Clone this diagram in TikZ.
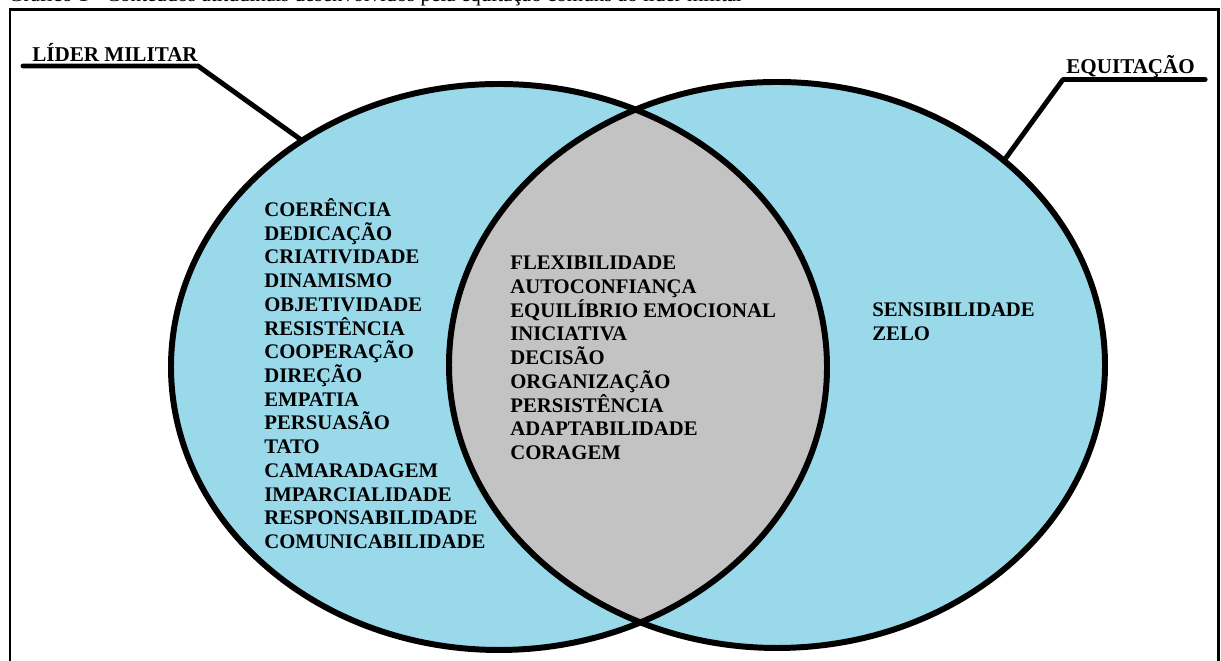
\documentclass[tikz,border=0pt]{standalone}
\usepackage{fontspec}
\setmainfont{Liberation Serif}
\usetikzlibrary{shapes.geometric}

\definecolor{vennblue}{RGB}{153,217,234}
\definecolor{venngray}{RGB}{195,195,195}

\begin{document}
\begin{tikzpicture}[x=0.02cm,y=0.02cm]
    % radii of the two sets
      \def\rx{328}
      \def\ry{283}
    % line spacing of the lists
      \def\listsep{13.5pt}

      \tikzset{
        vennset/.style={ellipse,minimum width={2*\rx*0.02cm},minimum height={2*\ry*0.02cm},
          inner sep=0pt,outer sep=0pt,fill=vennblue},
        vennline/.style={line width=3.4pt},
        callout/.style={line width=2.8pt,line cap=round,line join=round},
        setlabel/.style={font=\bfseries\fontsize{12}{14}\selectfont,inner sep=0pt,anchor=base west},
        % base of a list is the base of its last line
        itemlist/.style={font=\bfseries\fontsize{11.8}{\listsep}\selectfont,align=left,
          inner sep=0pt,anchor=base west}
      }

      \useasboundingbox (0,0) rectangle (1221,661);

    % Caption, cut by the page
      \node[anchor=base west,inner sep=0pt,font=\fontsize{12}{14}\selectfont] (caption) at (8,659)
        {Gráfico 1 - Conteúdos atitudinais desenvolvidos pela equitação comuns ao líder militar};

    % Draw the frame
      \draw[line width=1.7pt] (10,-20) |- (1218,651.5) -- (1218,-20);

    % Draw the two sets
      \node[vennset] (lider) at (499,294) {};
      \node[vennset] (equit) at (777,296) {};

    % Fill the common part
      \begin{scope}
        \clip (lider.center) ellipse [x radius=\rx,y radius=\ry];
        \fill[venngray] (equit.center) ellipse [x radius=\rx,y radius=\ry];
      \end{scope}
      \draw[vennline] (lider.center) ellipse [x radius=\rx,y radius=\ry];
      \draw[vennline] (equit.center) ellipse [x radius=\rx,y radius=\ry];

    % Draw the set names
      \node[setlabel] (lidertxt) at (32,599) {LÍDER MILITAR};
      \node[setlabel] (equittxt) at (1066,587.5) {EQUITAÇÃO};
      \draw[callout] ([shift={(-9,-4)}]lidertxt.base west) -- ([shift={(0,-4)}]lidertxt.base east) -- (lider.131);
      \draw[callout] ([shift={(10,-6)}]equittxt.base east) -- ([shift={(-3,-6)}]equittxt.base west) -- (equit.42);

    % Draw the lists
      \node[itemlist] (lideronly) at (264,112.5) {COERÊNCIA\\DEDICAÇÃO\\CRIATIVIDADE\\DINAMISMO\\OBJETIVIDADE\\RESISTÊNCIA\\COOPERAÇÃO\\DIREÇÃO\\EMPATIA\\PERSUASÃO\\TATO\\CAMARADAGEM\\IMPARCIALIDADE\\RESPONSABILIDADE\\COMUNICABILIDADE};
      \node[itemlist] (common) at (510,201.5) {FLEXIBILIDADE\\AUTOCONFIANÇA\\EQUILÍBRIO EMOCIONAL\\INICIATIVA\\DECISÃO\\ORGANIZAÇÃO\\PERSISTÊNCIA\\ADAPTABILIDADE\\CORAGEM};
      \node[itemlist] (equitonly) at (872,320.5) {SENSIBILIDADE\\ZELO};

\end{tikzpicture}
\end{document}
